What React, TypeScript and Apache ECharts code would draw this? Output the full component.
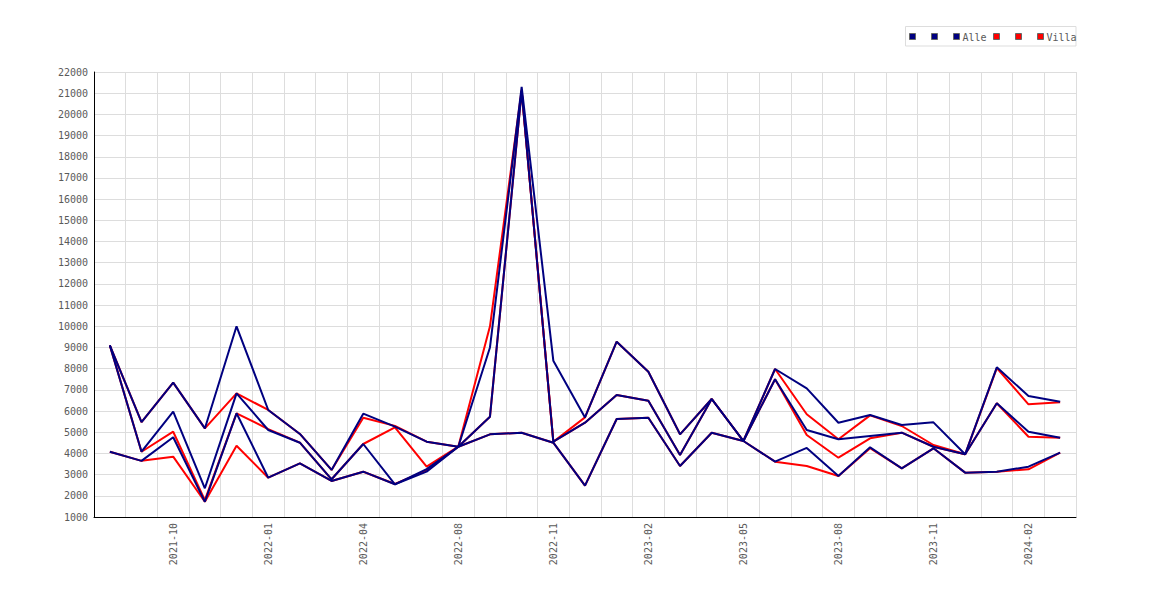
import React, { useEffect, useRef } from "react";
import * as echarts from "echarts";

const months = [
  "2021-08", "2021-09", "2021-10", "2021-11", "2021-12",
  "2022-01", "2022-02", "2022-03", "2022-04", "2022-05", "2022-06",
  "2022-08", "2022-09", "2022-10", "2022-11", "2022-12",
  "2023-01", "2023-02", "2023-03", "2023-04", "2023-05", "2023-06",
  "2023-07", "2023-08", "2023-09", "2023-10", "2023-11", "2023-12",
  "2024-01", "2024-02", "2024-03",
];

const alleHigh = [9100, 5480, 7340, 5180, 10000, 6050, 4920, 3220, 5875, 5262, 4553, 4317, 9000, 21300, 8376, 5700, 9272, 7858, 4902, 6568, 4586, 7984, 7073, 5450, 5814, 5341, 5467, 3959, 8064, 6710, 6441];
const alleMid = [9100, 4080, 5969, 2354, 6837, 5106, 4506, 2780, 4445, 2543, 3260, 4317, 5733, 21100, 4553, 5450, 6757, 6488, 3926, 6568, 4586, 7498, 5106, 4667, 4822, 4978, 4317, 3959, 6365, 5025, 4742];
const alleLow = [4081, 3650, 4761, 1722, 5894, 2855, 3534, 2700, 3138, 2543, 3140, 4317, 4900, 4978, 4506, 2480, 5625, 5686, 3407, 4978, 4586, 3610, 4260, 2935, 4289, 3298, 4242, 3093, 3138, 3374, 4034];

const villaHigh = [9100, 5480, 7340, 5180, 6837, 6050, 4920, 3220, 5686, 5300, 4553, 4317, 10000, 21150, 4553, 5700, 9272, 7858, 4902, 6568, 4586, 7984, 5850, 4667, 5794, 5294, 4398, 3959, 8030, 6318, 6410];
const villaMid = [9100, 4080, 5025, 1800, 5894, 5150, 4506, 2780, 4445, 5230, 3374, 4317, 5733, 21100, 4553, 5450, 6757, 6488, 3926, 6568, 4586, 7498, 4870, 3799, 4714, 4978, 4317, 3959, 6365, 4789, 4742];
const villaLow = [4081, 3650, 3846, 1720, 4366, 2855, 3534, 2700, 3138, 2560, 3200, 4317, 4900, 4978, 4506, 2480, 5625, 5686, 3407, 4978, 4586, 3610, 3407, 2935, 4250, 3298, 4242, 3093, 3138, 3251, 4034];

const legendLabels = ["", "", "Alle", "", "", "Villa"];
const legendColors = ["#000080", "#000080", "#000080", "#ff0000", "#ff0000", "#ff0000"];

const NAVY = "#000080";
const RED = "#ff0000";
const FONT = "DejaVu Sans Mono";
const TEXT = "#5a5a5a";

export default function App() {
  const ref = useRef<HTMLDivElement>(null);

  useEffect(() => {
    if (!ref.current) return;
    const chart = echarts.init(ref.current, undefined, { renderer: "svg" });

    const line = (name: string, data: number[], color: string) => ({
      name,
      type: "line",
      data,
      showSymbol: false,
      symbol: "none",
      lineStyle: { color, width: 2 },
      itemStyle: { color },
    });

    // legend drawn with graphic elements
    const squareX = [909.5, 931.5, 953.5, 993.5, 1015.5, 1037.5];
    const legendItems: any[] = [
      {
        type: "rect",
        shape: { x: 905.5, y: 26.5, width: 170.5, height: 19.5 },
        style: { fill: "#fff", stroke: "#dddddd", lineWidth: 1 },
      },
    ];
    legendLabels.forEach((lab, i) => {
      legendItems.push({
        type: "rect",
        shape: { x: squareX[i], y: 33.5, width: 6, height: 6 },
        style: { fill: legendColors[i], stroke: "#666", lineWidth: 1 },
      });
      if (lab) {
        legendItems.push({
          type: "text",
          x: squareX[i] + 9,
          y: 37,
          style: {
            text: lab,
            fill: TEXT,
            font: `10px "${FONT}"`,
            verticalAlign: "middle",
            textAlign: "left",
          },
        });
      }
    });

    chart.setOption({
      animation: false,
      backgroundColor: "#ffffff",
      grid: { left: 94, right: 94, top: 72, bottom: 83, containLabel: false },
      graphic: legendItems,
      xAxis: {
        type: "category",
        data: months,
        boundaryGap: true,
        axisLine: { show: true, lineStyle: { color: "#000", width: 1 } },
        axisTick: { show: false },
        axisLabel: {
          rotate: 90,
          interval: (i: number) => i % 3 === 2,
          margin: 6,
          color: TEXT,
          fontFamily: FONT,
          fontSize: 10,
        },
        splitLine: { show: true, interval: 0, lineStyle: { color: "#dddddd", width: 1 } },
      },
      yAxis: {
        type: "value",
        min: 1000,
        max: 22000,
        interval: 1000,
        axisLine: { show: true, lineStyle: { color: "#000", width: 1 } },
        axisTick: { show: false },
        axisLabel: {
          margin: 6,
          color: TEXT,
          fontFamily: FONT,
          fontSize: 10,
          formatter: (v: number) => String(v),
        },
        splitLine: { show: true, lineStyle: { color: "#dddddd", width: 1 } },
      },
      series: [
        line("Villa max", villaHigh, RED),
        line("Villa mid", villaMid, RED),
        line("Villa", villaLow, RED),
        line("Alle max", alleHigh, NAVY),
        line("Alle mid", alleMid, NAVY),
        line("Alle", alleLow, NAVY),
      ],
    });

    return () => chart.dispose();
  }, []);

  return (
    <div
      ref={ref}
      style={{ position: "absolute", left: 0, top: 0, width: 1170, height: 600, background: "#fff" }}
    />
  );
}
